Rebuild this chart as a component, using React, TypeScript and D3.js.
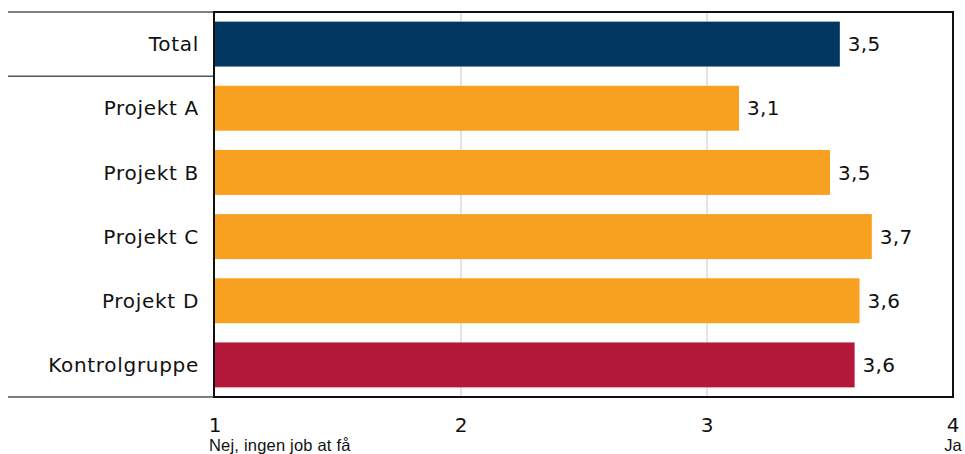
import React, { useEffect, useRef } from 'react';
import * as d3 from 'd3';

const categories = ['Total', 'Projekt A', 'Projekt B', 'Projekt C', 'Projekt D', 'Kontrolgruppe'];
const values = [3.54, 3.13, 3.5, 3.67, 3.62, 3.6];
const colors = ['#023761', '#F8A01F', '#F8A01F', '#F8A01F', '#F8A01F', '#B3173A'];
const ticks = [1, 2, 3, 4];
const endLabels = ['Nej, ingen job at få', 'Ja'];

const App = () => {
  const ref = useRef<SVGSVGElement>(null);
  const width = 965, height = 454;
  const margin = { top: 12, right: 11, bottom: 57, left: 215 };

  useEffect(() => {
    const svg = d3.select(ref.current);
    svg.selectAll('*').remove();

    const x = d3.scaleLinear().domain([1, 4]).range([margin.left, width - margin.right - 1]);
    const y = d3.scaleBand().domain(categories).range([margin.top, height - margin.bottom])
      .paddingInner(0.3).paddingOuter(0.15);

    const fmt = (v: number) => v.toFixed(1).replace('.', ',');

    // grid
    svg.append('g').selectAll('line').data(ticks.slice(1, -1)).join('line')
      .attr('x1', d => x(d)).attr('x2', d => x(d))
      .attr('y1', margin.top).attr('y2', height - margin.bottom)
      .attr('stroke', '#c8c8c8').attr('stroke-width', 1);

    // bars
    svg.append('g').selectAll('rect').data(values).join('rect')
      .attr('x', x(1))
      .attr('y', (d, i) => y(categories[i])!)
      .attr('width', d => x(d) - x(1))
      .attr('height', y.bandwidth())
      .attr('fill', (d, i) => colors[i]);

    // value labels
    svg.append('g').selectAll('text').data(values).join('text')
      .attr('x', d => x(d) + 8)
      .attr('y', (d, i) => y(categories[i])! + y.bandwidth() / 2)
      .attr('dy', '0.36em')
      .attr('font-family', 'DejaVu Sans')
      .attr('font-size', 20)
      .attr('letter-spacing', 0.3)
      .attr('fill', '#111')
      .text(d => fmt(d));

    // category labels
    svg.append('g').selectAll('text').data(categories).join('text')
      .attr('x', margin.left - 16)
      .attr('y', d => y(d)! + y.bandwidth() / 2)
      .attr('dy', '0.36em')
      .attr('text-anchor', 'end')
      .attr('font-family', 'DejaVu Sans')
      .attr('font-size', 20)
      .attr('letter-spacing', 0.7)
      .attr('fill', '#111')
      .text(d => d);

    // left separators
    const sepY = [margin.top, margin.top + y.step(), height - margin.bottom];
    svg.append('g').selectAll('line').data(sepY).join('line')
      .attr('x1', 8).attr('x2', margin.left)
      .attr('y1', d => d).attr('y2', d => d)
      .attr('stroke', '#555').attr('stroke-width', 1.5);

    // frame
    svg.append('rect')
      .attr('x', margin.left - 1).attr('y', margin.top)
      .attr('width', width - margin.right - margin.left)
      .attr('height', height - margin.bottom - margin.top)
      .attr('fill', 'none').attr('stroke', '#111').attr('stroke-width', 2);

    // tick labels
    svg.append('g').selectAll('text').data(ticks).join('text')
      .attr('x', d => x(d))
      .attr('y', 432)
      .attr('text-anchor', 'middle')
      .attr('font-family', 'DejaVu Sans')
      .attr('font-size', 20)
      .attr('fill', '#111')
      .text(d => d);

    svg.append('text')
      .attr('x', x(1) - 6).attr('y', 451)
      .attr('font-family', 'Liberation Sans').attr('font-size', 16.5)
      .attr('letter-spacing', 0.2)
      .attr('fill', '#111')
      .text(endLabels[0]);
    svg.append('text')
      .attr('x', x(4)).attr('y', 451)
      .attr('text-anchor', 'middle')
      .attr('font-family', 'Liberation Sans').attr('font-size', 16.5)
      .attr('fill', '#111')
      .text(endLabels[1]);
  }, []);

  return (
    <svg ref={ref} width={width} height={height}
      style={{ position: 'absolute', left: 0, top: 0, background: '#fff' }} />
  );
};

export default App;
